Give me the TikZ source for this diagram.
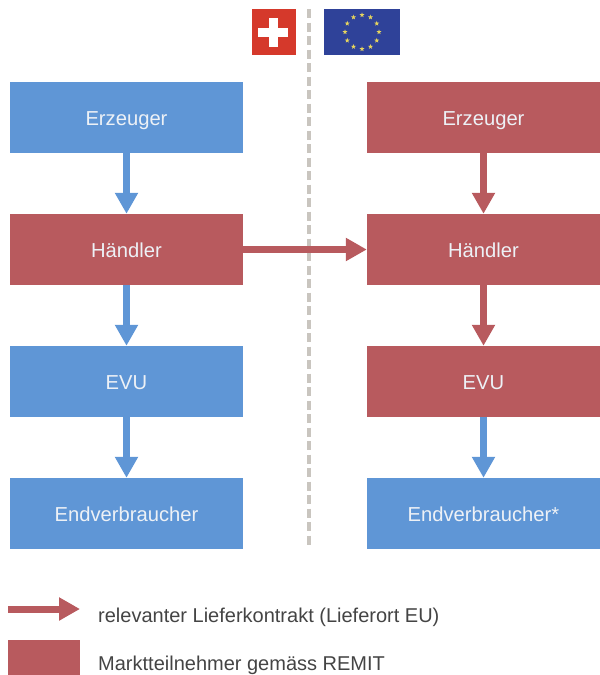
\documentclass[tikz,border=0pt]{standalone}
\usepackage{fontspec}
\setmainfont{Liberation Sans}
\usetikzlibrary{arrows.meta,shapes.geometric,calc}
\definecolor{bluebox}{HTML}{5F96D6}
\definecolor{redbox}{HTML}{B85A5E}
\definecolor{txt}{HTML}{444444}
\definecolor{boxtxt}{HTML}{EDF1F6}
\definecolor{dashgray}{HTML}{C9C5BF}
\definecolor{swissred}{HTML}{D5392B}
\definecolor{eublue}{HTML}{2F4299}
\definecolor{eustar}{HTML}{E6D45E}
\tikzset{
  box/.style={minimum width=233pt,minimum height=71pt,inner sep=0pt,text=boxtxt,text height=15pt,text depth=0pt,font=\fontsize{20.2}{24}\selectfont},
  bluefill/.style={box,fill=bluebox},
  redfill/.style={box,fill=redbox},
  conn/.style={line width=7.5pt,-{Triangle[width=22pt,length=21pt]}},
  blueconn/.style={conn,draw=bluebox},
  redconn/.style={conn,draw=redbox},
  legend/.style={anchor=base west,inner sep=0pt,text=txt,font=\fontsize{20}{24}\selectfont},
  eustarshape/.style={star,star points=5,star point ratio=2.4,fill=eustar,inner sep=0pt,minimum size=5.2pt}
}
\begin{document}
\begin{tikzpicture}[x=1pt,y=-1pt]
\useasboundingbox (0,0) rectangle (600,675);
\draw[dashgray,line width=3.5pt,dash pattern=on 9pt off 4.5pt] (309,9) coordinate (dtop) -- (309,549) coordinate (dbot);
% left column
\node[bluefill] (l1) at (126.5,117.5) {Erzeuger};
\node[redfill]  (l2) at (126.5,249.5) {Händler};
\node[bluefill] (l3) at (126.5,381.5) {EVU};
\node[bluefill] (l4) at (126.5,513.5) {Endverbraucher};
% right column
\node[redfill]  (r1) at (483.5,117.5) {Erzeuger};
\node[redfill]  (r2) at (483.5,249.5) {Händler};
\node[redfill]  (r3) at (483.5,381.5) {EVU};
\node[bluefill] (r4) at (483.5,513.5) {Endverbraucher*};
% connectors
\draw[blueconn] (l1) -- (l2);
\draw[blueconn] (l2) -- (l3);
\draw[blueconn] (l3) -- (l4);
\draw[redconn] (r1) -- (r2);
\draw[redconn] (r2) -- (r3);
\draw[blueconn] (r3) -- (r4);
\draw[redconn] (l2) -- (r2);
% flags
\node[fill=swissred,minimum width=44pt,minimum height=46pt,inner sep=0pt] (ch) at (274,32) {};
\fill[white] (258,28) rectangle (288,37);
\fill[white] (268.5,18) rectangle (278,47);
\node[fill=eublue,minimum width=76pt,minimum height=46pt,inner sep=0pt] (eu) at (362,32) {};
\foreach \a in {0,30,...,330}
  \node[eustarshape] at ($(eu.center)+(\a:17pt)$) {};
% legend
\coordinate (la) at (8,609);
\coordinate (lb) at (80,609);
\draw[redconn,line width=7pt] (la) -- (lb);
\node[legend] (t1) at (98,622) {relevanter Lieferkontrakt (Lieferort EU)};
\fill[redbox] (8,640) rectangle (80,675);
\node[legend] (t2) at (98,670) {Marktteilnehmer gemäss REMIT};
\end{tikzpicture}
\end{document}
